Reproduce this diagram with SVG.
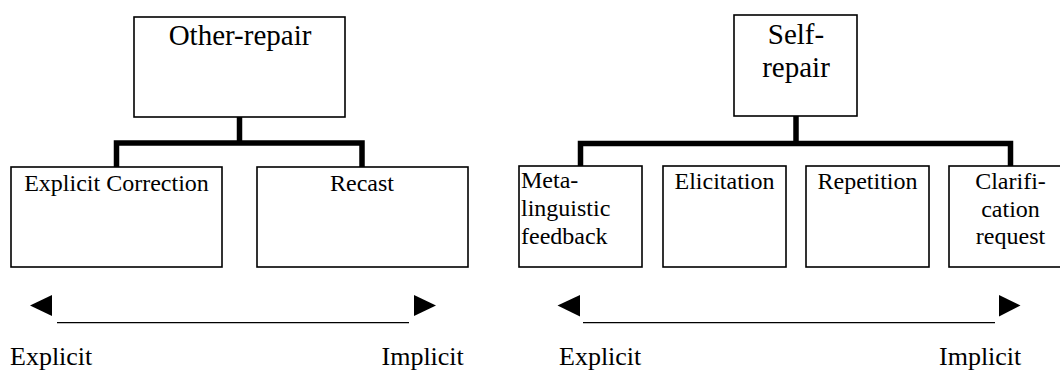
<svg xmlns="http://www.w3.org/2000/svg" width="1060" height="371" viewBox="0 0 1060 371">
  <style>
    .box { fill: #ffffff; stroke: #000000; stroke-width: 1.6; }
    .bar { fill: none; stroke: #000000; stroke-width: 5.5; stroke-linejoin: miter; }
    .axis { fill: none; stroke: #000000; stroke-width: 1.2; }
    .head { fill: #000000; }
    text { font-family: "Liberation Serif", "Times New Roman", serif; fill: #000000; }
    .big { font-size: 29px; text-anchor: middle; }
    .mid { font-size: 24px; }
    .c { text-anchor: middle; }
    .scale { font-size: 26px; }
  </style>

  <!-- tree connectors -->
  <g id="connectors">
    <path class="bar" d="M239.5,117 V143"/>
    <path class="bar" d="M116.5,167 V143 H362 V167"/>
    <path class="bar" d="M796,116 V144"/>
    <path class="bar" d="M580.5,166 V143.5 H1010.5 V166"/>
  </g>

  <!-- left tree -->
  <g id="other-repair">
    <rect class="box" x="134" y="17" width="211" height="100"/>
    <text class="big" x="240" y="45">Other-repair</text>
  </g>
  <g id="explicit-correction">
    <rect class="box" x="11" y="167" width="211" height="100"/>
    <text class="mid c" x="116.5" y="190.5">Explicit Correction</text>
  </g>
  <g id="recast">
    <rect class="box" x="257" y="167" width="211" height="100"/>
    <text class="mid c" x="362" y="190.5">Recast</text>
  </g>

  <!-- right tree -->
  <g id="self-repair">
    <rect class="box" x="734" y="15" width="123" height="101"/>
    <text class="big" x="796" y="43.5">Self-</text>
    <text class="big" x="796" y="76.5">repair</text>
  </g>
  <g id="metalinguistic-feedback">
    <rect class="box" x="519" y="166" width="123" height="101"/>
    <text class="mid" x="521" y="188">Meta-</text>
    <text class="mid" x="521" y="216">linguistic</text>
    <text class="mid" x="521" y="244">feedback</text>
  </g>
  <g id="elicitation">
    <rect class="box" x="663" y="166" width="123" height="101"/>
    <text class="mid c" x="724.5" y="189">Elicitation</text>
  </g>
  <g id="repetition">
    <rect class="box" x="806" y="166" width="123" height="101"/>
    <text class="mid c" x="867.5" y="189">Repetition</text>
  </g>
  <g id="clarification-request">
    <rect class="box" x="949" y="166" width="123" height="101"/>
    <text class="mid c" x="1010.5" y="188.5">Clarifi-</text>
    <text class="mid c" x="1010.5" y="216.5">cation</text>
    <text class="mid c" x="1010.5" y="244">request</text>
  </g>

  <!-- explicit / implicit scales -->
  <g id="scale-left">
    <polygon class="head" points="30,305.5 52,295 52,316"/>
    <line class="axis" x1="57" y1="322.7" x2="409" y2="322.7"/>
    <polygon class="head" points="436,305.5 414,295 414,316"/>
    <text class="scale" x="10" y="365">Explicit</text>
    <text class="scale" x="381.5" y="365">Implicit</text>
  </g>
  <g id="scale-right">
    <polygon class="head" points="557.5,305.5 580,295 580,316.5"/>
    <line class="axis" x1="583" y1="322.7" x2="995" y2="322.7"/>
    <polygon class="head" points="1020.5,305.5 999,295 999,316.5"/>
    <text class="scale" x="559" y="365">Explicit</text>
    <text class="scale" x="939" y="365">Implicit</text>
  </g>
</svg>
